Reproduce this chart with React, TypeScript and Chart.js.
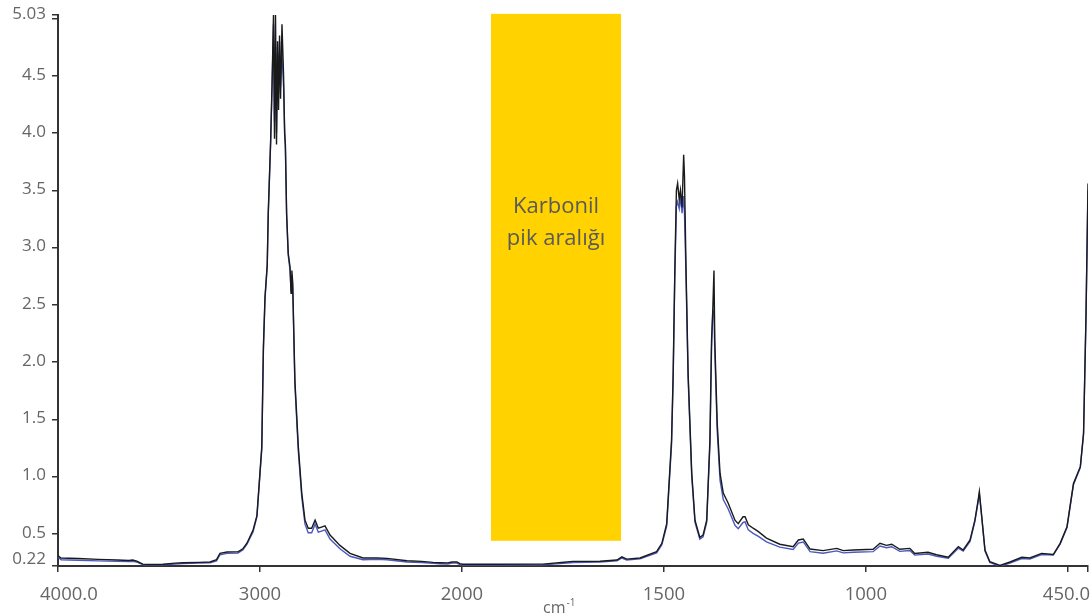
import React, { useEffect, useRef } from 'react';
import { Chart, registerables, LinearScale } from 'chart.js';

// ---------- data ----------
const X_START = 4000;
const X_END = 450;
const X_BREAK = 2000; // scale doubles below 2000 cm-1
const X_EXPAND = 2;

const X_TICKS = [4000, 3000, 2000, 1500, 1000, 500, 450];
const X_TICK_LABELS = ['4000.0', '3000', '2000', '1500', '1000', '', '450.0'];

const Y_MIN = 0.22;
const Y_MAX = 5.03;
const Y_TICKS = [0.22, 0.5, 1.0, 1.5, 2.0, 2.5, 3.0, 3.5, 4.0, 4.5, 5.0, 5.03];
const Y_TICK_LABELS = ['0.22', '0.5', '1.0', '1.5', '2.0', '2.5', '3.0', '3.5', '4.0', '4.5', '', '5.03'];

const AXIS_TITLE = 'cm';
const AXIS_TITLE_SUP = '-1';

const BAND_FROM = 1928;
const BAND_TO = 1606;
const BAND_BOTTOM = 0.44;
const BAND_TOP = 5.04;
const BAND_LINES = ['Karbonil', 'pik aralığı'];
const BAND_TEXT_Y = 3.3;

const SPECTRUM_A: [number, number][] = [
  [4000, 0.31], [3985, 0.29], [3900, 0.285], [3800, 0.278], [3708, 0.272], [3650, 0.268], [3630, 0.272],
  [3610, 0.262], [3580, 0.236], [3540, 0.233], [3480, 0.235], [3420, 0.245], [3381, 0.249], [3300, 0.252],
  [3247, 0.255], [3215, 0.275], [3198, 0.331], [3163, 0.342], [3109, 0.343], [3085, 0.37], [3064, 0.421],
  [3034, 0.534], [3015, 0.66], [2991, 1.26], [2983, 2.13], [2975, 2.57], [2964, 2.85], [2959, 3.30],
  [2947, 3.94], [2940, 4.44], [2933, 5.03], [2928, 3.95], [2923, 5.03], [2918, 3.90], [2913, 4.80],
  [2908, 4.20], [2903, 4.85], [2898, 4.30], [2891, 4.95], [2883, 4.50], [2878, 4.00], [2874, 3.90],
  [2868, 3.30], [2860, 2.95], [2851, 2.83], [2846, 2.60], [2842, 2.80], [2838, 2.70], [2827, 1.84],
  [2810, 1.26], [2793, 0.857], [2777, 0.62], [2761, 0.55], [2744, 0.55], [2727, 0.62], [2711, 0.55],
  [2695, 0.56], [2678, 0.57], [2653, 0.49], [2604, 0.40], [2554, 0.33], [2490, 0.29], [2420, 0.29],
  [2371, 0.287], [2272, 0.266], [2200, 0.26], [2143, 0.252], [2109, 0.249], [2070, 0.247], [2049, 0.255],
  [2025, 0.255], [2010, 0.24], [1998, 0.235], [1923, 0.235], [1800, 0.236], [1740, 0.255], [1725, 0.26],
  [1658, 0.262], [1616, 0.272], [1604, 0.30], [1592, 0.28], [1559, 0.29], [1518, 0.345], [1505, 0.418],
  [1493, 0.59], [1481, 1.32], [1477, 1.90], [1473, 2.78], [1469, 3.50], [1466, 3.56], [1462, 3.42],
  [1459, 3.50], [1455, 3.35], [1451, 3.81], [1449, 3.62], [1445, 2.78], [1440, 1.90], [1431, 1.03],
  [1423, 0.62], [1411, 0.47], [1403, 0.49], [1394, 0.62], [1386, 1.32], [1382, 2.19], [1379, 2.45],
  [1376, 2.80], [1374, 2.19], [1368, 1.47], [1361, 1.03], [1353, 0.857], [1341, 0.77], [1324, 0.62],
  [1316, 0.59], [1304, 0.65], [1299, 0.65], [1291, 0.58], [1279, 0.55], [1266, 0.52], [1246, 0.464],
  [1213, 0.41], [1180, 0.389], [1167, 0.447], [1155, 0.455], [1138, 0.368], [1106, 0.354], [1072, 0.374],
  [1056, 0.354], [1031, 0.36], [982, 0.366], [965, 0.418], [949, 0.40], [936, 0.41], [916, 0.366],
  [891, 0.374], [879, 0.33], [846, 0.34], [825, 0.318], [796, 0.296], [771, 0.389], [759, 0.36],
  [742, 0.447], [730, 0.62], [722, 0.796], [719, 0.869], [713, 0.65], [705, 0.36], [693, 0.257],
  [668, 0.225], [643, 0.255], [614, 0.296], [594, 0.29], [565, 0.33], [536, 0.32], [519, 0.418],
  [502, 0.563], [486, 0.94], [469, 1.087], [461, 1.38], [455, 2.40], [450, 3.56],
];

const SPECTRUM_B: [number, number][] = [
  [4000, 0.30], [3985, 0.275], [3900, 0.27], [3800, 0.265], [3708, 0.26], [3650, 0.258], [3630, 0.262],
  [3610, 0.255], [3580, 0.232], [3540, 0.228], [3480, 0.23], [3420, 0.238], [3381, 0.242], [3300, 0.245],
  [3247, 0.248], [3215, 0.265], [3198, 0.318], [3163, 0.33], [3109, 0.332], [3085, 0.36], [3064, 0.41],
  [3034, 0.52], [3015, 0.65], [2991, 1.24], [2983, 2.10], [2975, 2.55], [2964, 2.84], [2959, 3.28],
  [2947, 3.92], [2940, 4.40], [2933, 4.95], [2928, 4.10], [2923, 4.75], [2918, 4.00], [2913, 4.70],
  [2908, 4.35], [2903, 4.80], [2898, 4.40], [2891, 4.70], [2883, 4.40], [2878, 4.05], [2874, 3.85],
  [2868, 3.28], [2860, 2.93], [2851, 2.80], [2846, 2.62], [2842, 2.76], [2838, 2.66], [2827, 1.80],
  [2810, 1.22], [2793, 0.82], [2777, 0.585], [2761, 0.51], [2744, 0.51], [2727, 0.585], [2711, 0.515],
  [2695, 0.525], [2678, 0.535], [2653, 0.455], [2604, 0.37], [2554, 0.305], [2490, 0.275], [2420, 0.278],
  [2371, 0.275], [2272, 0.255], [2200, 0.25], [2143, 0.243], [2109, 0.24], [2070, 0.238], [2049, 0.245],
  [2025, 0.245], [2010, 0.232], [1998, 0.228], [1923, 0.228], [1800, 0.23], [1740, 0.245], [1725, 0.25],
  [1658, 0.255], [1616, 0.265], [1604, 0.29], [1592, 0.272], [1559, 0.282], [1518, 0.335], [1505, 0.405],
  [1493, 0.57], [1481, 1.28], [1477, 1.86], [1473, 2.74], [1469, 3.36], [1466, 3.40], [1462, 3.34],
  [1459, 3.44], [1455, 3.30], [1451, 3.45], [1449, 3.30], [1445, 2.72], [1440, 1.86], [1431, 1.00],
  [1423, 0.60], [1411, 0.455], [1403, 0.475], [1394, 0.60], [1386, 1.28], [1382, 2.12], [1379, 2.42],
  [1376, 2.45], [1374, 2.10], [1368, 1.40], [1361, 0.97], [1353, 0.80], [1341, 0.72], [1324, 0.575],
  [1316, 0.545], [1304, 0.60], [1299, 0.605], [1291, 0.535], [1279, 0.505], [1266, 0.478], [1246, 0.43],
  [1213, 0.385], [1180, 0.365], [1167, 0.42], [1155, 0.43], [1138, 0.345], [1106, 0.332], [1072, 0.352],
  [1056, 0.335], [1031, 0.34], [982, 0.345], [965, 0.395], [949, 0.38], [936, 0.388], [916, 0.348],
  [891, 0.355], [879, 0.315], [846, 0.325], [825, 0.305], [796, 0.288], [771, 0.375], [759, 0.35],
  [742, 0.435], [730, 0.61], [722, 0.78], [719, 0.85], [713, 0.64], [705, 0.35], [693, 0.25],
  [668, 0.218], [643, 0.245], [614, 0.285], [594, 0.28], [565, 0.32], [536, 0.315], [519, 0.41],
  [502, 0.555], [486, 0.93], [469, 1.08], [461, 1.37], [455, 2.38], [450, 3.50],
];

// ---------- styles ----------
const TEXT_GRAY = '#666666';
const AXIS_COLOR = '#333333';
const BAND_COLOR = '#FFD200';
const BAND_TEXT = '#5a5a5a';
const FONT = '"Open Sans", "DejaVu Sans", sans-serif';

// ---------- split wavenumber scale (expanded below 2000 cm-1) ----------
const toUnits = (w: number) =>
  w >= X_BREAK ? X_START - w : X_START - X_BREAK + (X_BREAK - w) * X_EXPAND;
const fromUnits = (u: number) =>
  u <= X_START - X_BREAK ? X_START - u : X_BREAK - (u - (X_START - X_BREAK)) / X_EXPAND;
const UNITS_TOTAL = toUnits(X_END);

class WavenumberScale extends LinearScale {
  static id = 'wavenumber';
  static defaults = LinearScale.defaults;
  getPixelForValue(value: number) {
    return (this as any).getPixelForDecimal(toUnits(value) / UNITS_TOTAL);
  }
  getValueForPixel(pixel: number) {
    return fromUnits((this as any).getDecimalForPixel(pixel) * UNITS_TOTAL);
  }
}

Chart.register(...registerables, WavenumberScale as any);

const bandPlugin = {
  id: 'carbonylBand',
  beforeDatasetsDraw(chart: any) {
    const { ctx, scales } = chart;
    const x1 = scales.x.getPixelForValue(BAND_FROM);
    const x2 = scales.x.getPixelForValue(BAND_TO);
    const y1 = scales.y.getPixelForValue(BAND_TOP);
    const y2 = scales.y.getPixelForValue(BAND_BOTTOM);
    ctx.save();
    ctx.fillStyle = BAND_COLOR;
    ctx.fillRect(x1, y1, x2 - x1, y2 - y1);
    ctx.fillStyle = BAND_TEXT;
    ctx.font = `22px ${FONT}`;
    ctx.textAlign = 'center';
    ctx.textBaseline = 'alphabetic';
    const cx = (x1 + x2) / 2;
    const ty = scales.y.getPixelForValue(BAND_TEXT_Y);
    BAND_LINES.forEach((line, i) => ctx.fillText(line, cx, ty + i * 32));
    ctx.restore();
  },
};

const labelPlugin = {
  id: 'axisLabels',
  afterDraw(chart: any) {
    const { ctx, chartArea, scales } = chart;
    ctx.save();
    ctx.fillStyle = TEXT_GRAY;
    // x tick labels
    ctx.font = `18.5px ${FONT}`;
    ctx.textAlign = 'left';
    ctx.textBaseline = 'alphabetic';
    X_TICKS.forEach((v, i) => {
      const label = X_TICK_LABELS[i];
      if (!label) return;
      const w = ctx.measureText(label).width;
      let left = scales.x.getPixelForValue(v) - w / 2;
      left = Math.max(left, chartArea.left - 18);
      left = Math.min(left, chart.width - 2 - w);
      ctx.fillText(label, left, chartArea.bottom + 34);
    });
    // y tick labels
    ctx.font = `17px ${FONT}`;
    ctx.textAlign = 'right';
    ctx.textBaseline = 'middle';
    Y_TICKS.forEach((v, i) => {
      const label = Y_TICK_LABELS[i];
      if (!label) return;
      let y = scales.y.getPixelForValue(v) - 1;
      y = Math.min(y, chartArea.bottom - 7);
      ctx.fillText(label, chartArea.left - 12, y);
    });
    // axis title cm-1
    ctx.textAlign = 'left';
    ctx.textBaseline = 'alphabetic';
    ctx.font = `16px ${FONT}`;
    const tw = ctx.measureText(AXIS_TITLE).width;
    const tx = (chartArea.left + chartArea.right) / 2 - 30;
    ctx.fillText(AXIS_TITLE, tx, chartArea.bottom + 47);
    ctx.font = `10px ${FONT}`;
    ctx.fillText(AXIS_TITLE_SUP, tx + tw + 1, chartArea.bottom + 40);
    ctx.restore();
  },
};

export default function App() {
  const canvasRef = useRef<HTMLCanvasElement | null>(null);

  useEffect(() => {
    if (!canvasRef.current) return;
    const chart = new Chart(canvasRef.current, {
      type: 'line',
      data: {
        datasets: [
          {
            label: 'A',
            data: SPECTRUM_A.map(([x, y]) => ({ x, y })),
            borderColor: '#1a1a1a',
            borderWidth: 1.4,
            pointRadius: 0,
            tension: 0,
            fill: false,
          },
          {
            label: 'B',
            data: SPECTRUM_B.map(([x, y]) => ({ x, y })),
            borderColor: '#4a58c0',
            borderWidth: 1.4,
            pointRadius: 0,
            tension: 0,
            fill: false,
          },
        ],
      },
      options: {
        animation: false,
        responsive: false,
        devicePixelRatio: 1,
        layout: { padding: { top: 15, right: 4, left: 0, bottom: 0 } },
        plugins: { legend: { display: false }, tooltip: { enabled: false } },
        scales: {
          x: {
            type: 'wavenumber' as any,
            min: X_END,
            max: X_START,
            afterBuildTicks: (s: any) => {
              s.ticks = X_TICKS.map((value) => ({ value }));
            },
            afterFit: (s: any) => {
              s.height = 50;
            },
            ticks: { display: false },
            grid: { drawOnChartArea: false, drawTicks: true, tickLength: 6, color: AXIS_COLOR, lineWidth: 1.5 },
            border: { display: true, color: AXIS_COLOR, width: 2 },
          },
          y: {
            type: 'linear',
            min: Y_MIN,
            max: Y_MAX,
            afterBuildTicks: (s: any) => {
              s.ticks = Y_TICKS.map((value) => ({ value }));
            },
            afterFit: (s: any) => {
              s.width = 58;
            },
            ticks: { display: false },
            grid: { drawOnChartArea: false, drawTicks: true, tickLength: 6, color: AXIS_COLOR, lineWidth: 1.5 },
            border: { display: true, color: AXIS_COLOR, width: 2 },
          },
        },
      },
      plugins: [bandPlugin, labelPlugin],
    } as any);
    return () => chart.destroy();
  }, []);

  return (
    <div style={{ position: 'absolute', left: 0, top: 0, width: 1092, height: 616, background: '#fff' }}>
      <canvas ref={canvasRef} width={1092} height={616} style={{ display: 'block' }} />
    </div>
  );
}
